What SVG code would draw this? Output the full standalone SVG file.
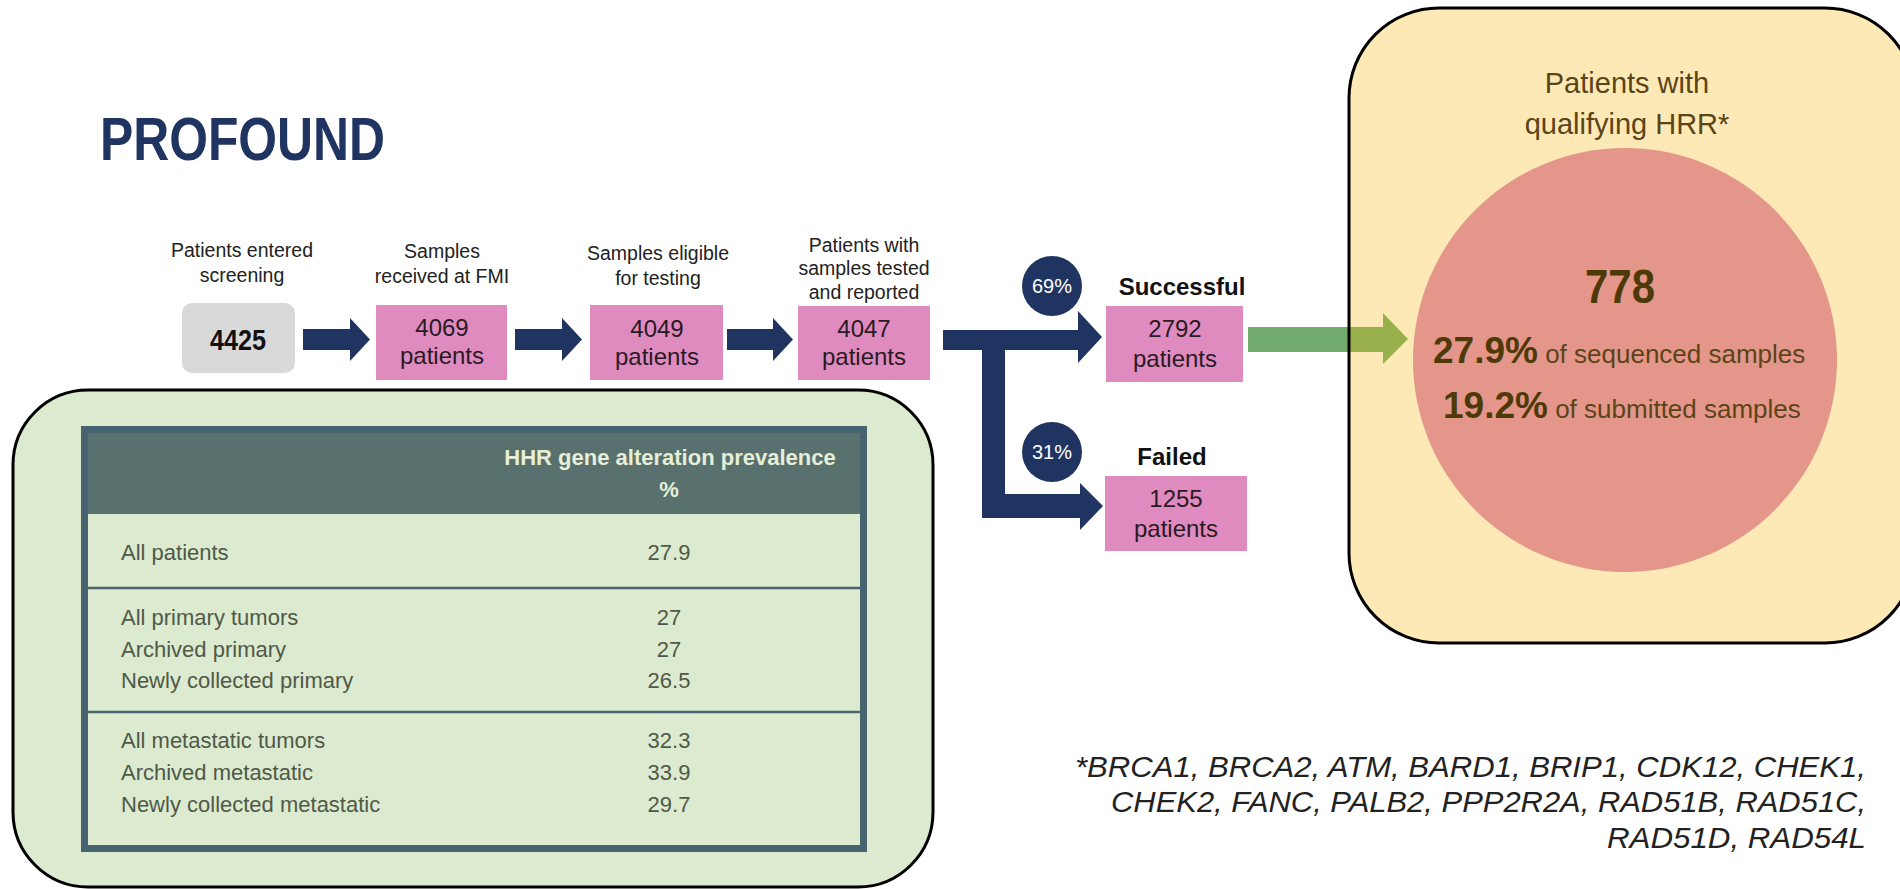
<svg xmlns="http://www.w3.org/2000/svg" width="1900" height="889" viewBox="0 0 1900 889">
<defs>
<style>
text{font-family:"Liberation Sans",Arial,sans-serif}
.lbl{font-size:19.5px;fill:#222;text-anchor:middle}
.box{fill:#df8bc0}
.bt{font-size:24px;fill:#2a1a22;text-anchor:middle}
.navy{fill:#1f3460}
.pct{font-size:20px;fill:#fff;text-anchor:middle}
.hd{font-size:24px;font-weight:bold;fill:#111;text-anchor:middle}
.row{font-size:22px;fill:#4f5948}
.val{font-size:22px;fill:#4f5948;text-anchor:middle}
.sep{stroke:#4b6470;stroke-width:2.5}
.brown{fill:#5a4418}
.foot{font-size:30px;font-style:italic;fill:#222}
</style>
<linearGradient id="ga" gradientUnits="userSpaceOnUse" x1="1248" y1="0" x2="1408" y2="0">
<stop offset="0" stop-color="#71ab6d"/>
<stop offset="0.63" stop-color="#71ab6d"/>
<stop offset="0.63" stop-color="#98b04b"/>
<stop offset="1" stop-color="#98b04b"/>
</linearGradient>
</defs>
<rect width="1900" height="889" fill="#fff"/>

<g id="title">
<text x="100" y="160" font-size="62" font-weight="bold" fill="#1f3461" textLength="285" lengthAdjust="spacingAndGlyphs">PROFOUND</text>
</g>

<g id="hrr-box">
<rect x="1349" y="8" width="566" height="635" rx="90" fill="#fde9b6"/>
<text x="1627" y="93" font-size="29" class="brown" text-anchor="middle">Patients with</text>
<text x="1627" y="134" font-size="29" class="brown" text-anchor="middle">qualifying HRR*</text>
<circle cx="1625" cy="360" r="212" fill="#e5968a"/>
<text x="1620" y="303" font-size="48" font-weight="bold" fill="#4d3a08" text-anchor="middle" textLength="70" lengthAdjust="spacingAndGlyphs">778</text>
<text x="1433" y="363" class="brown" font-size="26"><tspan font-size="37" font-weight="bold" fill="#4d3a08">27.9%</tspan> of sequenced samples</text>
<text x="1443" y="418" class="brown" font-size="26"><tspan font-size="37" font-weight="bold" fill="#4d3a08">19.2%</tspan> of submitted samples</text>
</g>

<g id="screening">
<text class="lbl" x="242" y="257">Patients entered</text>
<text class="lbl" x="242" y="282">screening</text>
<rect x="182" y="303" width="113" height="70" rx="10" fill="#d9d9d9"/>
<text x="238" y="350" font-size="29" font-weight="bold" fill="#111" text-anchor="middle" textLength="56" lengthAdjust="spacingAndGlyphs">4425</text>
</g>

<g id="received">
<text class="lbl" x="442" y="258">Samples</text>
<text class="lbl" x="442" y="283">received at FMI</text>
<rect class="box" x="376" y="305" width="131" height="75"/>
<text class="bt" x="442" y="336">4069</text>
<text class="bt" x="442" y="364">patients</text>
</g>

<g id="eligible">
<text class="lbl" x="658" y="260">Samples eligible</text>
<text class="lbl" x="658" y="285">for testing</text>
<rect class="box" x="590" y="305" width="133" height="75"/>
<text class="bt" x="657" y="337">4049</text>
<text class="bt" x="657" y="365">patients</text>
</g>

<g id="tested">
<text class="lbl" x="864" y="252">Patients with</text>
<text class="lbl" x="864" y="275">samples tested</text>
<text class="lbl" x="864" y="299">and reported</text>
<rect class="box" x="798" y="306" width="132" height="74"/>
<text class="bt" x="864" y="337">4047</text>
<text class="bt" x="864" y="365">patients</text>
</g>

<g id="successful">
<text class="hd" x="1182" y="295">Successful</text>
<rect class="box" x="1106" y="306" width="137" height="76"/>
<text class="bt" x="1175" y="337">2792</text>
<text class="bt" x="1175" y="367">patients</text>
</g>

<g id="failed">
<text class="hd" x="1172" y="465">Failed</text>
<rect class="box" x="1105" y="476" width="142" height="75"/>
<text class="bt" x="1176" y="507">1255</text>
<text class="bt" x="1176" y="537">patients</text>
</g>

<g id="connectors">
<path class="navy" d="M303,329 H350 V318 L370,339.5 L350,361 V350 H303 Z"/>
<path class="navy" d="M515,329 H562 V318 L582,339.5 L562,361 V350 H515 Z"/>
<path class="navy" d="M727,329 H773 V318 L793,339.5 L773,361 V350 H727 Z"/>
<path class="navy" d="M943,330 H1078 V311 L1102,337 L1078,363 V350 H1005 V494 H1080 V483 L1103,506 L1080,530 V518 H982 V350 H943 Z"/>
<path fill="url(#ga)" d="M1248,327 H1383 V313 L1408,339 L1383,364 V352 H1248 Z"/>
</g>

<g id="pct69">
<circle class="navy" cx="1052" cy="286" r="30"/>
<text class="pct" x="1052" y="293">69%</text>
</g>
<g id="pct31">
<circle class="navy" cx="1052" cy="452" r="30"/>
<text class="pct" x="1052" y="459">31%</text>
</g>

<g id="hrr-frame">
<rect x="1349" y="8" width="566" height="635" rx="90" fill="none" stroke="#000" stroke-width="3"/>
</g>

<g id="table-box">
<rect x="13" y="390" width="920" height="497" rx="75" fill="#dceacf" stroke="#000" stroke-width="3"/>
<rect x="88" y="433" width="772" height="81" fill="#58716f"/>
<rect x="84.5" y="429.5" width="779" height="419" fill="none" stroke="#476370" stroke-width="7"/>
<line class="sep" x1="88" y1="588" x2="860" y2="588"/>
<line class="sep" x1="88" y1="712" x2="860" y2="712"/>
<text x="670" y="465" font-size="22" font-weight="bold" fill="#e6efd6" text-anchor="middle">HHR gene alteration prevalence</text>
<text x="669" y="497" font-size="22" font-weight="bold" fill="#e6efd6" text-anchor="middle">%</text>
<text class="row" x="121" y="560">All patients</text>
<text class="val" x="669" y="560">27.9</text>
<text class="row" x="121" y="625">All primary tumors</text>
<text class="val" x="669" y="625">27</text>
<text class="row" x="121" y="657">Archived primary</text>
<text class="val" x="669" y="657">27</text>
<text class="row" x="121" y="688">Newly collected primary</text>
<text class="val" x="669" y="688">26.5</text>
<text class="row" x="121" y="748">All metastatic tumors</text>
<text class="val" x="669" y="748">32.3</text>
<text class="row" x="121" y="780">Archived metastatic</text>
<text class="val" x="669" y="780">33.9</text>
<text class="row" x="121" y="812">Newly collected metastatic</text>
<text class="val" x="669" y="812">29.7</text>
</g>

<g id="footnote">
<text class="foot" x="1075" y="777" textLength="791" lengthAdjust="spacingAndGlyphs">*BRCA1, BRCA2, ATM, BARD1, BRIP1, CDK12, CHEK1,</text>
<text class="foot" x="1111" y="812" textLength="755" lengthAdjust="spacingAndGlyphs">CHEK2, FANC, PALB2, PPP2R2A, RAD51B, RAD51C,</text>
<text class="foot" x="1607" y="848" textLength="259" lengthAdjust="spacingAndGlyphs">RAD51D, RAD54L</text>
</g>
</svg>
